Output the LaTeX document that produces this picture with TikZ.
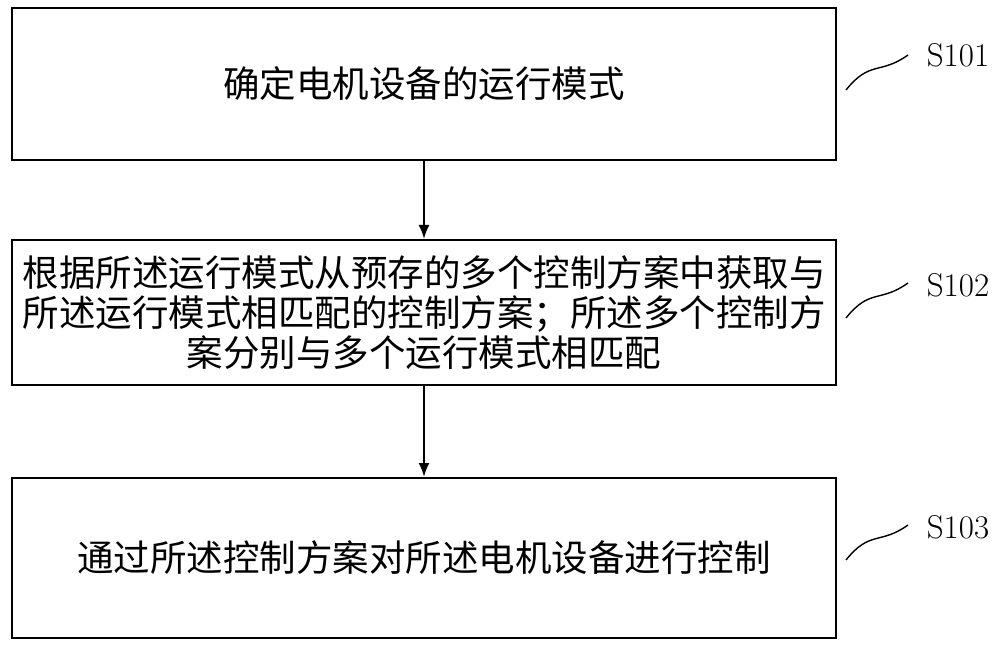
\documentclass[tikz,border=0pt]{standalone}
\usepackage{fontspec}
\usetikzlibrary{arrows.meta}
\newfontfamily\cjk{Noto Sans CJK SC}
\begin{document}
\begin{tikzpicture}[x=1pt,y=-1pt,
  box/.style={draw,line width=2pt,minimum width=824pt,inner sep=0pt,align=center,font=\cjk\fontsize{36.5}{40}\selectfont},
  arr/.style={-{Latex[length=14pt,width=11pt]},line width=2.2pt},
  lab/.style={font=\fontsize{33}{36}\selectfont},
  wave/.style={line width=1.4pt}]
\useasboundingbox (0,0) rectangle (1000,652);
\node[box,minimum height=152pt] (b1) at (424,84) {确定电机设备的运行模式};
\node[box,minimum height=145pt] (b2) at (424,312.5) {根据所述运行模式从预存的多个控制方案中获取与\\所述运行模式相匹配的控制方案；所述多个控制方\\案分别与多个运行模式相匹配};
\node[box,minimum height=160pt] (b3) at (424,558) {通过所述控制方案对所述电机设备进行控制};
\draw[arr] (b1) -- (b2);
\draw[arr] (b2) -- (b3);
\node[lab] (l1) at (958,55) {S101};
\node[lab] (l2) at (958,285) {S102};
\node[lab] (l3) at (958,527) {S103};
\coordinate (w1) at (846,90); \coordinate (w2) at (846,318); \coordinate (w3) at (846,560);
\draw[wave] (w1) .. controls (870,60) and (880,75) .. (908,55);
\draw[wave] (w2) .. controls (870,288) and (880,303) .. (908,283);
\draw[wave] (w3) .. controls (870,530) and (880,545) .. (908,525);
\end{tikzpicture}
\end{document}
